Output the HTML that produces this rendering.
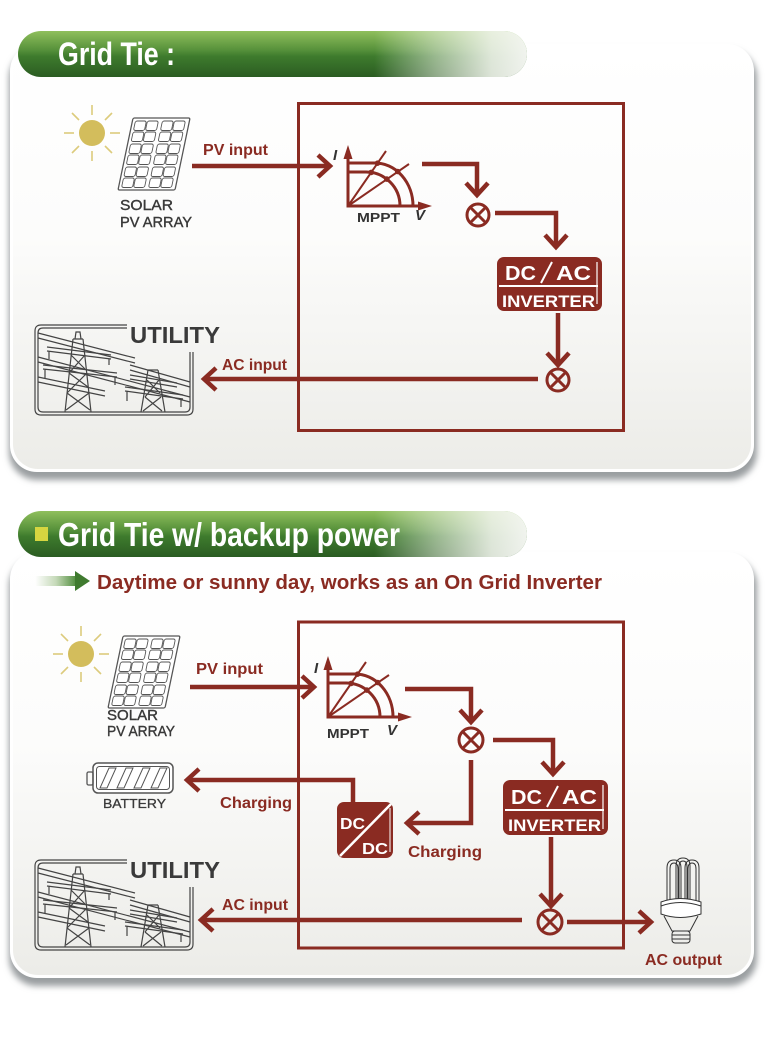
<!DOCTYPE html>
<html><head><meta charset="utf-8"><style>
html,body{margin:0;padding:0;background:#fff;}
body{width:765px;height:1037px;overflow:hidden;}
svg{display:block;}
text{font-family:"Liberation Sans",sans-serif;}
</style></head><body>
<svg width="765" height="1037" viewBox="0 0 765 1037" xmlns="http://www.w3.org/2000/svg">
<defs>
<filter id="sh" x="-5%" y="-5%" width="110%" height="115%"><feGaussianBlur stdDeviation="3.2"/></filter>
<linearGradient id="cardg" x1="0" y1="0" x2="0" y2="1">
<stop offset="0" stop-color="#ffffff"/><stop offset="0.45" stop-color="#fcfcfb"/><stop offset="1" stop-color="#ecece8"/>
</linearGradient>
<linearGradient id="pillv" x1="0" y1="0" x2="0" y2="1">
<stop offset="0" stop-color="#8fbf5c"/><stop offset="0.42" stop-color="#55903a"/><stop offset="0.55" stop-color="#3e7b2d"/><stop offset="1" stop-color="#2b5c22"/>
</linearGradient>
<linearGradient id="pillh" gradientUnits="userSpaceOnUse" x1="18" y1="0" x2="527" y2="0">
<stop offset="0" stop-color="#fff" stop-opacity="0"/><stop offset="0.7" stop-color="#fff" stop-opacity="0"/><stop offset="0.82" stop-color="#f4f6f0" stop-opacity="0.5"/><stop offset="0.93" stop-color="#f4f6f0" stop-opacity="0.88"/><stop offset="1" stop-color="#f6f7f4" stop-opacity="0.97"/>
</linearGradient>
<linearGradient id="garrow" x1="0" y1="0" x2="1" y2="0">
<stop offset="0" stop-color="#ffffff"/><stop offset="0.5" stop-color="#c5d9b8"/><stop offset="1" stop-color="#4c8a38"/>
</linearGradient>
<clipPath id="pc1"><rect x="18" y="31" width="509" height="46" rx="23"/></clipPath>
<clipPath id="pc2"><rect x="18" y="511" width="509" height="46" rx="23"/></clipPath>
</defs>
<rect width="765" height="1037" fill="#fff"/>

<!-- CARD 1 -->
<rect x="9" y="50" width="748" height="430" rx="28" fill="#9a9ea0" filter="url(#sh)"/>
<rect x="10" y="44" width="744" height="428" rx="27" fill="#fff"/>
<rect x="13" y="47" width="738" height="422" rx="25" fill="url(#cardg)"/>

<!-- CARD 2 -->
<rect x="9" y="558" width="748" height="428" rx="28" fill="#9a9ea0" filter="url(#sh)"/>
<rect x="10" y="552" width="744" height="426" rx="27" fill="#fff"/>
<rect x="13" y="555" width="738" height="420" rx="25" fill="url(#cardg)"/>

<!-- PILL 1 -->
<g clip-path="url(#pc1)">
<rect x="18" y="31" width="509" height="46" fill="url(#pillv)"/>
<rect x="18" y="31" width="509" height="46" fill="url(#pillh)"/>
</g>
<text x="58" y="65" font-size="32" font-weight="bold" fill="#fff" textLength="117" lengthAdjust="spacingAndGlyphs">Grid Tie :</text>

<!-- PILL 2 -->
<g clip-path="url(#pc2)">
<rect x="18" y="511" width="509" height="46" fill="url(#pillv)"/>
<rect x="18" y="511" width="509" height="46" fill="url(#pillh)"/>
</g>
<rect x="35" y="527" width="13" height="14" fill="#d6d640"/>
<text x="58" y="546" font-size="33" font-weight="bold" fill="#fff" textLength="342" lengthAdjust="spacingAndGlyphs">Grid Tie w/ backup power</text>

<!-- ================= SECTION 1 ================= -->
<rect x="298.5" y="103.5" width="325" height="327" fill="none" stroke="#8a2b22" stroke-width="3"/>

<!-- sun -->
<g stroke="#dccb7c" stroke-width="1.6">
<line x1="92" y1="115" x2="92" y2="105"/><line x1="92" y1="151" x2="92" y2="161"/>
<line x1="74" y1="133" x2="64" y2="133"/><line x1="110" y1="133" x2="120" y2="133"/>
<line x1="79" y1="120" x2="72" y2="113"/><line x1="105" y1="120" x2="112" y2="113"/>
<line x1="79" y1="146" x2="72" y2="153"/><line x1="105" y1="146" x2="112" y2="153"/>
</g>
<circle cx="92" cy="133" r="13" fill="#d3bd5c"/>

<!-- solar panel 1 -->
<g transform="translate(118,190) skewX(-11.8)" fill="#fff" stroke="#555" stroke-width="0.9">
<rect x="0" y="-72" width="57" height="72" rx="1.5" stroke-width="1.3"/>
<g fill="none">
<rect x="3" y="-69" width="11" height="9.5" rx="2"/><rect x="15" y="-69" width="11" height="9.5" rx="2"/><rect x="30" y="-69" width="11" height="9.5" rx="2"/><rect x="42" y="-69" width="11" height="9.5" rx="2"/>
<rect x="3" y="-58" width="11" height="9.5" rx="2"/><rect x="15" y="-58" width="11" height="9.5" rx="2"/><rect x="30" y="-58" width="11" height="9.5" rx="2"/><rect x="42" y="-58" width="11" height="9.5" rx="2"/>
<rect x="3" y="-46" width="11" height="9.5" rx="2"/><rect x="15" y="-46" width="11" height="9.5" rx="2"/><rect x="30" y="-46" width="11" height="9.5" rx="2"/><rect x="42" y="-46" width="11" height="9.5" rx="2"/>
<rect x="3" y="-35" width="11" height="9.5" rx="2"/><rect x="15" y="-35" width="11" height="9.5" rx="2"/><rect x="30" y="-35" width="11" height="9.5" rx="2"/><rect x="42" y="-35" width="11" height="9.5" rx="2"/>
<rect x="3" y="-23" width="11" height="9.5" rx="2"/><rect x="15" y="-23" width="11" height="9.5" rx="2"/><rect x="30" y="-23" width="11" height="9.5" rx="2"/><rect x="42" y="-23" width="11" height="9.5" rx="2"/>
<rect x="3" y="-12" width="11" height="9.5" rx="2"/><rect x="15" y="-12" width="11" height="9.5" rx="2"/><rect x="30" y="-12" width="11" height="9.5" rx="2"/><rect x="42" y="-12" width="11" height="9.5" rx="2"/>
</g></g>
<text x="120" y="210" font-size="15" fill="#3a3a3a" stroke="#3a3a3a" stroke-width="0.4" textLength="53" lengthAdjust="spacingAndGlyphs">SOLAR</text>
<text x="120" y="227" font-size="15" fill="#3a3a3a" stroke="#3a3a3a" stroke-width="0.4" textLength="72" lengthAdjust="spacingAndGlyphs">PV ARRAY</text>

<!-- MPPT 1 -->
<g transform="translate(348,206)">
<g stroke="#8a2b22" stroke-width="3" fill="none">
<path d="M0,1.5 V-50 M-1.5,0 H72"/>
<path d="M0,-43 H27 A38 43 0 0 1 65 0"/>
<path d="M0,-34 H18 A34 34 0 0 1 52 0"/>
<path d="M0,0 L38,-55 M0,0 L61,-42" stroke-width="2"/>
</g>
<g fill="#8a2b22">
<polygon points="0,-61 -4.5,-47 4.5,-47"/>
<polygon points="84,0 70,-4.5 70,4.5"/>
<circle cx="29.5" cy="-42.8" r="2.8"/><circle cx="23.2" cy="-33.6" r="2.8"/>
<circle cx="49.7" cy="-34.5" r="2.8"/><circle cx="38.8" cy="-26.9" r="2.8"/>
</g>
</g>
<text x="333" y="160" font-family="Liberation Serif,serif" font-style="italic" font-weight="bold" font-size="15" fill="#333">I</text>
<text x="357" y="222" font-size="13" font-weight="bold" fill="#333" textLength="43" lengthAdjust="spacingAndGlyphs">MPPT</text>
<text x="415" y="220" font-family="Liberation Serif,serif" font-style="italic" font-weight="bold" font-size="15" fill="#333">V</text>

<!-- arrows section 1 -->
<g stroke="#8a2b22" stroke-width="4.5" fill="none" stroke-linejoin="miter">
<path d="M192,166 H329"/><polyline points="318,155 330,166 318,177"/>
<path d="M422,164 H477 V193"/><polyline points="466,183 477,195 488,183"/>
<path d="M495,213 H556 V246"/><polyline points="545,235 556,247 567,235"/>
<path d="M558,313 V364"/><polyline points="547,353 558,365 569,353"/>
<path d="M538,379 H205"/><polyline points="216,368 204,379 216,390"/>
</g>
<text x="203" y="155" font-size="16" font-weight="bold" fill="#8a2b22" textLength="65" lengthAdjust="spacingAndGlyphs">PV input</text>

<!-- otimes 1 -->
<g stroke="#8a2b22" stroke-width="3" fill="none">
<circle cx="478" cy="215" r="11"/><path d="M470.5,207.5 L485.5,222.5 M485.5,207.5 L470.5,222.5"/>
<circle cx="558" cy="380" r="11"/><path d="M550.5,372.5 L565.5,387.5 M565.5,372.5 L550.5,387.5"/>
</g>

<!-- inverter 1 -->
<rect x="497" y="257" width="105" height="54" rx="7" fill="#8a2b22"/>
<line x1="499" y1="286" x2="598" y2="286" stroke="#fff" stroke-width="2"/>
<path d="M597,262 V304" stroke="#fff" stroke-width="1.2" fill="none"/>
<text x="505" y="280" font-size="20" font-weight="bold" fill="#fff" textLength="31" lengthAdjust="spacingAndGlyphs">DC</text>
<line x1="541" y1="283" x2="552" y2="262" stroke="#fff" stroke-width="2"/>
<text x="556" y="280" font-size="20" font-weight="bold" fill="#fff" textLength="35" lengthAdjust="spacingAndGlyphs">AC</text>
<text x="502" y="307" font-size="17" font-weight="bold" fill="#fff" textLength="93" lengthAdjust="spacingAndGlyphs">INVERTER</text>

<!-- utility 1 -->
<g transform="translate(35,325)" stroke="#444" stroke-width="1.2" fill="none">
<path d="M92,0 H6 Q0,0 0,6 V84 Q0,90 6,90 H152 Q158,90 158,84 V27"/>
<path d="M92,3 H8 Q3,3 3,8 V82 Q3,87 8,87 H150 Q155,87 155,82 V27"/>
<path d="M3,8 L100,33 M3,13 L100,38"/>
<path d="M3,32 L155,72 M3,37 L155,77"/>
<path d="M3,52 L70,66 M3,57 L70,71"/>
<path d="M95,40 L155,57 M95,45 L155,62"/>
<path d="M30,87 L38,14 M56,87 L48,14 M38,14 H48 M40,14 L41,7 H45 L46,14"/>
<path d="M36,30 L50,44 M50,30 L34,48 M34,48 L53,62 M52,48 L32,68 M32,68 L55,85 M54,68 L31,85"/>
<path d="M12,22 L76,30 M12,26 L76,34 M14,26 V34 M74,34 V40"/>
<path d="M8,40 L82,48 M8,44 L82,52 M10,44 V54 M80,52 V60"/>
<path d="M106,87 L113,45 M130,87 L123,45 M113,45 H123"/>
<path d="M112,55 L125,68 M124,55 L110,72 M110,72 L127,86 M126,72 L108,86"/>
<path d="M95,50 L142,58 M95,54 L142,62"/>
<path d="M90,62 L148,70 M90,66 L148,74 M92,66 V76 M146,74 V82"/>
</g>
<text x="130" y="343" font-size="23" font-weight="bold" fill="#3a3a3a" textLength="90" lengthAdjust="spacingAndGlyphs">UTILITY</text>
<text x="222" y="370" font-size="16" font-weight="bold" fill="#8a2b22" textLength="65" lengthAdjust="spacingAndGlyphs">AC input</text>

<!-- ================= SECTION 2 ================= -->
<!-- green arrow -->
<rect x="35" y="576" width="42" height="10" fill="url(#garrow)"/>
<polygon points="75,571 90,581 75,591" fill="#3f7a2e"/>
<text x="97" y="589" font-size="20" font-weight="bold" fill="#8a2b22" textLength="505" lengthAdjust="spacingAndGlyphs">Daytime or sunny day, works as an On Grid Inverter</text>

<rect x="298.5" y="622" width="325" height="326" fill="none" stroke="#8a2b22" stroke-width="3"/>

<!-- sun 2 -->
<g stroke="#dccb7c" stroke-width="1.6">
<line x1="81" y1="636" x2="81" y2="626"/><line x1="81" y1="672" x2="81" y2="682"/>
<line x1="63" y1="654" x2="53" y2="654"/><line x1="99" y1="654" x2="109" y2="654"/>
<line x1="68" y1="641" x2="61" y2="634"/><line x1="94" y1="641" x2="101" y2="634"/>
<line x1="68" y1="667" x2="61" y2="674"/><line x1="94" y1="667" x2="101" y2="674"/>
</g>
<circle cx="81" cy="654" r="13" fill="#d3bd5c"/>

<!-- solar panel 2 -->
<g transform="translate(108,708) skewX(-11.8)" fill="#fff" stroke="#555" stroke-width="0.9">
<rect x="0" y="-72" width="57" height="72" rx="1.5" stroke-width="1.3"/>
<g fill="none">
<rect x="3" y="-69" width="11" height="9.5" rx="2"/><rect x="15" y="-69" width="11" height="9.5" rx="2"/><rect x="30" y="-69" width="11" height="9.5" rx="2"/><rect x="42" y="-69" width="11" height="9.5" rx="2"/>
<rect x="3" y="-58" width="11" height="9.5" rx="2"/><rect x="15" y="-58" width="11" height="9.5" rx="2"/><rect x="30" y="-58" width="11" height="9.5" rx="2"/><rect x="42" y="-58" width="11" height="9.5" rx="2"/>
<rect x="3" y="-46" width="11" height="9.5" rx="2"/><rect x="15" y="-46" width="11" height="9.5" rx="2"/><rect x="30" y="-46" width="11" height="9.5" rx="2"/><rect x="42" y="-46" width="11" height="9.5" rx="2"/>
<rect x="3" y="-35" width="11" height="9.5" rx="2"/><rect x="15" y="-35" width="11" height="9.5" rx="2"/><rect x="30" y="-35" width="11" height="9.5" rx="2"/><rect x="42" y="-35" width="11" height="9.5" rx="2"/>
<rect x="3" y="-23" width="11" height="9.5" rx="2"/><rect x="15" y="-23" width="11" height="9.5" rx="2"/><rect x="30" y="-23" width="11" height="9.5" rx="2"/><rect x="42" y="-23" width="11" height="9.5" rx="2"/>
<rect x="3" y="-12" width="11" height="9.5" rx="2"/><rect x="15" y="-12" width="11" height="9.5" rx="2"/><rect x="30" y="-12" width="11" height="9.5" rx="2"/><rect x="42" y="-12" width="11" height="9.5" rx="2"/>
</g></g>
<text x="107" y="720" font-size="15" fill="#3a3a3a" stroke="#3a3a3a" stroke-width="0.4" textLength="51" lengthAdjust="spacingAndGlyphs">SOLAR</text>
<text x="107" y="736" font-size="15" fill="#3a3a3a" stroke="#3a3a3a" stroke-width="0.4" textLength="68" lengthAdjust="spacingAndGlyphs">PV ARRAY</text>

<!-- MPPT 2 -->
<g transform="translate(328,717)">
<g stroke="#8a2b22" stroke-width="3" fill="none">
<path d="M0,1.5 V-50 M-1.5,0 H72"/>
<path d="M0,-43 H27 A38 43 0 0 1 65 0"/>
<path d="M0,-34 H18 A34 34 0 0 1 52 0"/>
<path d="M0,0 L38,-55 M0,0 L61,-42" stroke-width="2"/>
</g>
<g fill="#8a2b22">
<polygon points="0,-61 -4.5,-47 4.5,-47"/>
<polygon points="84,0 70,-4.5 70,4.5"/>
<circle cx="29.5" cy="-42.8" r="2.8"/><circle cx="23.2" cy="-33.6" r="2.8"/>
<circle cx="49.7" cy="-34.5" r="2.8"/><circle cx="38.8" cy="-26.9" r="2.8"/>
</g>
</g>
<text x="314" y="673" font-family="Liberation Serif,serif" font-style="italic" font-weight="bold" font-size="15" fill="#333">I</text>
<text x="327" y="738" font-size="13" font-weight="bold" fill="#333" textLength="42" lengthAdjust="spacingAndGlyphs">MPPT</text>
<text x="387" y="735" font-family="Liberation Serif,serif" font-style="italic" font-weight="bold" font-size="15" fill="#333">V</text>

<!-- arrows section 2 -->
<g stroke="#8a2b22" stroke-width="4.5" fill="none" stroke-linejoin="miter">
<path d="M190,687 H313"/><polyline points="302,676 314,687 302,698"/>
<path d="M405,689 H471 V720"/><polyline points="460,710 471,722 482,710"/>
<path d="M493,740 H553 V772"/><polyline points="542,762 553,774 564,762"/>
<path d="M471,760 V823 H408"/><polyline points="419,812 407,823 419,834"/>
<path d="M353,802 V780 H188"/><polyline points="199,769 187,780 199,791"/>
<path d="M551,837 V904"/><polyline points="540,894 551,906 562,894"/>
<path d="M522,920 H202"/><polyline points="213,909 201,920 213,931"/>
<path d="M567,922 H650"/><polyline points="639,911 651,922 639,933"/>
</g>
<text x="196" y="674" font-size="16" font-weight="bold" fill="#8a2b22" textLength="67" lengthAdjust="spacingAndGlyphs">PV input</text>

<!-- otimes 2 -->
<g stroke="#8a2b22" stroke-width="3" fill="none">
<circle cx="471" cy="740" r="12"/><path d="M463,732 L479,748 M479,732 L463,748"/>
<circle cx="550" cy="922" r="12"/><path d="M542,914 L558,930 M558,914 L542,930"/>
</g>

<!-- inverter 2 -->
<rect x="503" y="780" width="105" height="55" rx="7" fill="#8a2b22"/>
<line x1="505" y1="810" x2="604" y2="810" stroke="#fff" stroke-width="2"/>
<path d="M603,785 V829" stroke="#fff" stroke-width="1.2" fill="none"/>
<text x="511" y="804" font-size="20" font-weight="bold" fill="#fff" textLength="31" lengthAdjust="spacingAndGlyphs">DC</text>
<line x1="547" y1="807" x2="558" y2="786" stroke="#fff" stroke-width="2"/>
<text x="562" y="804" font-size="20" font-weight="bold" fill="#fff" textLength="35" lengthAdjust="spacingAndGlyphs">AC</text>
<text x="508" y="831" font-size="17" font-weight="bold" fill="#fff" textLength="93" lengthAdjust="spacingAndGlyphs">INVERTER</text>

<!-- DC/DC -->
<rect x="337" y="802" width="56" height="56" rx="7" fill="#8a2b22"/>
<line x1="340" y1="856" x2="391" y2="804" stroke="#fff" stroke-width="2.5"/>
<path d="M390,808 V852" stroke="#fff" stroke-width="1" fill="none"/>
<text x="340" y="829" font-size="16" font-weight="bold" fill="#fff" textLength="25" lengthAdjust="spacingAndGlyphs">DC</text>
<text x="362" y="854" font-size="16" font-weight="bold" fill="#fff" textLength="26" lengthAdjust="spacingAndGlyphs">DC</text>

<text x="220" y="808" font-size="16" font-weight="bold" fill="#8a2b22" textLength="72" lengthAdjust="spacingAndGlyphs">Charging</text>
<text x="408" y="857" font-size="16" font-weight="bold" fill="#8a2b22" textLength="74" lengthAdjust="spacingAndGlyphs">Charging</text>

<!-- battery -->
<g fill="none" stroke="#555">
<rect x="93" y="763" width="80" height="30" rx="5" stroke-width="1.5" fill="#fff"/>
<rect x="96.5" y="766.5" width="73" height="23" rx="3" stroke-width="1"/>
<rect x="87" y="772" width="6" height="13" rx="1.5" stroke-width="1.3"/>
<polygon points="109,768 116,768 107,788 100,788" stroke-width="1"/>
<polygon points="126,768 133,768 124,788 117,788" stroke-width="1"/>
<polygon points="143,768 150,768 141,788 134,788" stroke-width="1"/>
<polygon points="160,768 167,768 158,788 151,788" stroke-width="1"/>
</g>
<text x="103" y="808" font-size="13" fill="#3a3a3a" stroke="#3a3a3a" stroke-width="0.3" textLength="63" lengthAdjust="spacingAndGlyphs">BATTERY</text>

<!-- utility 2 -->
<g transform="translate(35,860)" stroke="#444" stroke-width="1.2" fill="none">
<path d="M92,0 H6 Q0,0 0,6 V84 Q0,90 6,90 H152 Q158,90 158,84 V27"/>
<path d="M92,3 H8 Q3,3 3,8 V82 Q3,87 8,87 H150 Q155,87 155,82 V27"/>
<path d="M3,8 L100,33 M3,13 L100,38"/>
<path d="M3,32 L155,72 M3,37 L155,77"/>
<path d="M3,52 L70,66 M3,57 L70,71"/>
<path d="M95,40 L155,57 M95,45 L155,62"/>
<path d="M30,87 L38,14 M56,87 L48,14 M38,14 H48 M40,14 L41,7 H45 L46,14"/>
<path d="M36,30 L50,44 M50,30 L34,48 M34,48 L53,62 M52,48 L32,68 M32,68 L55,85 M54,68 L31,85"/>
<path d="M12,22 L76,30 M12,26 L76,34 M14,26 V34 M74,34 V40"/>
<path d="M8,40 L82,48 M8,44 L82,52 M10,44 V54 M80,52 V60"/>
<path d="M106,87 L113,45 M130,87 L123,45 M113,45 H123"/>
<path d="M112,55 L125,68 M124,55 L110,72 M110,72 L127,86 M126,72 L108,86"/>
<path d="M95,50 L142,58 M95,54 L142,62"/>
<path d="M90,62 L148,70 M90,66 L148,74 M92,66 V76 M146,74 V82"/>
</g>
<text x="130" y="878" font-size="23" font-weight="bold" fill="#3a3a3a" textLength="90" lengthAdjust="spacingAndGlyphs">UTILITY</text>
<text x="222" y="910" font-size="16" font-weight="bold" fill="#8a2b22" textLength="66" lengthAdjust="spacingAndGlyphs">AC input</text>

<!-- bulb -->
<g transform="translate(660,858)" stroke="#333" stroke-width="1" fill="none">
<path d="M7,44 V10 Q7,2 14,2 Q21,2 21,10 V44"/>
<path d="M10,44 V11 Q10,5 14,5 Q18,5 18,11 V44"/>
<path d="M16,42 V8 Q16,0 23,0 Q30,0 30,8 V42"/>
<path d="M19,42 V9 Q19,3 23,3 Q27,3 27,9 V42"/>
<path d="M25,44 V10 Q25,2 32,2 Q39,2 39,10 V44"/>
<path d="M28,44 V11 Q28,5 32,5 Q36,5 36,11 V44"/>
<path d="M1,44 Q20,37 41,44 L41,56 Q20,63 1,56 Z" fill="#fff"/>
<path d="M1,48 Q20,41 41,48"/>
<path d="M4,58 L12,73 H30 L38,58"/>
<rect x="12" y="73" width="18" height="12" rx="3"/>
<path d="M12,77 H30 M12,81 H30"/>
</g>
<text x="645" y="965" font-size="16" font-weight="bold" fill="#8a2b22" textLength="77" lengthAdjust="spacingAndGlyphs">AC output</text>
</svg>
</body></html>
